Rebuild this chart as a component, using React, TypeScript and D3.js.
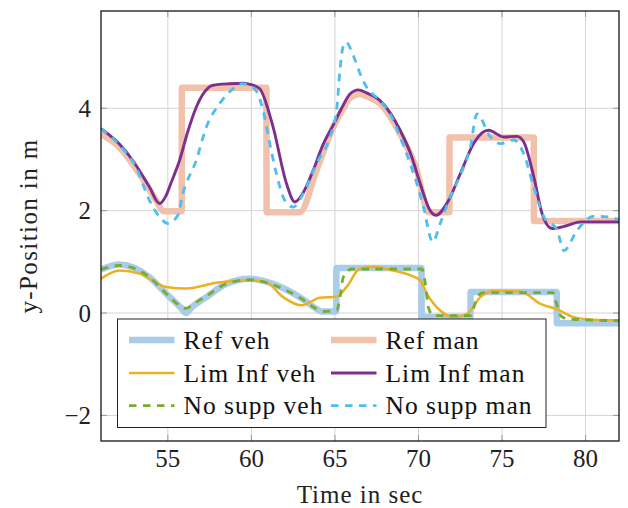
import React from "react";
import * as d3 from "d3";

// reference trajectories
const tRefVeh = [51, 52.1, 53.9, 54.9, 55.8, 56.1, 56.4, 57.3, 58.5, 59.9, 61.3, 62.9, 63.9, 64.2, 65.08, 65.09, 70.18, 70.19, 73.11, 73.12, 78.27, 78.28, 82];
const yRefVeh = [0.85, 0.95, 0.7, 0.38, 0.1, 0.0, 0.1, 0.31, 0.57, 0.67, 0.57, 0.31, 0.08, 0.03, 0.03, 0.88, 0.88, -0.08, -0.08, 0.41, 0.41, -0.2, -0.2];

const tRefMan = [51, 52.1, 53.3, 54.3, 54.75, 55.83, 55.84, 60.9, 60.91, 62.9, 63.9, 64.9, 65.5, 65.9, 66.5, 67.0, 67.7, 68.9, 69.9, 70.6, 71.85, 71.86, 76.9, 76.91, 82];
const yRefMan = [3.5, 3.24, 2.72, 2.2, 1.99, 1.99, 4.4, 4.4, 1.97, 1.97, 2.79, 3.63, 4.0, 4.2, 4.28, 4.22, 4.09, 3.5, 2.79, 1.97, 1.97, 3.43, 3.43, 1.8, 1.8];

// limited influence controller
const tLimVeh = [51, 52.1, 53.3, 54.9, 56.1, 57.9, 59.9, 60.9, 61.9, 63.0, 64.1, 65.1, 65.7, 66.5, 67.3, 68.5, 70.1, 70.5, 71.3, 72.1, 72.9, 73.7, 74.5, 76.1, 77.3, 78.3, 79.3, 80.5, 82];
const yLimVeh = [0.67, 0.83, 0.77, 0.51, 0.48, 0.59, 0.64, 0.6, 0.31, 0.15, 0.3, 0.32, 0.51, 0.87, 0.9, 0.83, 0.64, 0.38, 0.05, -0.08, -0.02, 0.31, 0.43, 0.42, 0.18, 0.07, -0.08, -0.13, -0.14];

const tLimMan = [51, 52.1, 52.9, 53.9, 54.5, 54.9, 55.2, 55.7, 56.2, 56.7, 57.2, 57.7, 58.7, 59.5, 60.0, 60.5, 61.3, 62.1, 62.6, 63.1, 63.7, 64.3, 64.9, 65.4, 65.9, 66.4, 66.9, 67.7, 68.9, 69.6, 70.1, 70.7, 71.05, 71.8, 72.5, 73.3, 73.9, 74.2, 75.1, 75.9, 76.3, 76.9, 77.4, 78.0, 78.9, 79.7, 82];
const yLimMan = [3.6, 3.3, 2.98, 2.46, 2.14, 2.3, 2.55, 2.98, 3.55, 4.02, 4.32, 4.45, 4.48, 4.49, 4.46, 4.38, 3.63, 2.53, 2.17, 2.35, 2.79, 3.3, 3.67, 4.0, 4.28, 4.36, 4.3, 4.15, 3.57, 3.05, 2.53, 2.0, 1.91, 2.2, 2.72, 3.31, 3.54, 3.57, 3.44, 3.45, 3.34, 2.66, 1.94, 1.65, 1.71, 1.78, 1.78];

// no support
const tNoVeh = [51, 52.1, 53.9, 54.9, 55.7, 56.1, 56.5, 57.3, 58.5, 59.9, 61.3, 62.9, 63.9, 64.3, 65.1, 65.3, 65.5, 66.0, 70.2, 70.4, 70.6, 70.9, 73.1, 73.3, 73.55, 73.9, 78.05, 78.25, 78.5, 79.0, 82];
const yNoVeh = [0.85, 0.93, 0.7, 0.38, 0.15, 0.09, 0.17, 0.33, 0.57, 0.65, 0.55, 0.3, 0.08, 0.03, 0.05, 0.3, 0.7, 0.86, 0.86, 0.6, 0.1, -0.05, -0.05, 0.1, 0.33, 0.4, 0.4, 0.2, -0.05, -0.12, -0.15];

const tNoMan = [51, 52.1, 53.1, 53.9, 54.5, 55.0, 55.6, 55.9, 56.7, 57.3, 58.1, 58.9, 59.4, 60.1, 60.7, 61.1, 61.5, 62.0, 62.5, 63.1, 63.9, 64.7, 65.1, 65.3, 65.45, 65.65, 66.1, 66.5, 66.9, 67.7, 68.5, 68.9, 69.5, 69.9, 70.3, 70.85, 71.3, 71.9, 72.5, 73.1, 73.5, 74.3, 74.9, 75.7, 76.3, 76.9, 77.5, 78.3, 78.7, 79.5, 80.5, 81.3, 82];
const yNoMan = [3.6, 3.28, 2.85, 2.2, 1.88, 1.75, 1.91, 2.33, 2.98, 3.63, 4.09, 4.38, 4.48, 4.41, 3.96, 3.31, 2.72, 2.2, 2.07, 2.33, 2.92, 3.44, 3.96, 4.74, 5.15, 5.29, 5.03, 4.68, 4.41, 4.15, 3.76, 3.44, 2.92, 2.53, 2.07, 1.39, 1.75, 2.27, 2.69, 3.24, 3.89, 3.44, 3.31, 3.38, 3.11, 2.46, 1.88, 1.62, 1.22, 1.62, 1.89, 1.88, 1.82];

const xTicks = [55, 60, 65, 70, 75, 80];
const yTicks = [-2, 0, 2, 4];

const series = [
  { name: "Ref veh", t: tRefVeh, y: yRefVeh, color: "#a9cce8", width: 6.5, dash: "" },
  { name: "Ref man", t: tRefMan, y: yRefMan, color: "#f2c1ab", width: 6.5, dash: "" },
  { name: "Lim Inf veh", t: tLimVeh, y: yLimVeh, color: "#EDB120", width: 2.5, dash: "" },
  { name: "Lim Inf man", t: tLimMan, y: yLimMan, color: "#7E2F8E", width: 2.9, dash: "" },
  { name: "No supp veh", t: tNoVeh, y: yNoVeh, color: "#77AC30", width: 2.8, dash: "7.5 6.5" },
  { name: "No supp man", t: tNoMan, y: yNoMan, color: "#4DBEEE", width: 2.8, dash: "7.5 6.5" },
];

const W = 628, H = 508;
const margin = { left: 101, right: 9, top: 11, bottom: 67 };
const font = "'Liberation Serif', 'Times New Roman', serif";

export default function App() {
  const x = d3.scaleLinear().domain([51, 82]).range([margin.left, W - margin.right]);
  const y = d3.scaleLinear().domain([-2.5, 5.9]).range([H - margin.bottom, margin.top]);
  const [x0, x1] = x.range();
  const [y0, y1] = y.range();

  const line = d3
    .line<[number, number]>()
    .x((d) => x(d[0]))
    .y((d) => y(d[1]))
    .curve(d3.curveMonotoneX);

  const legendRows = [340, 373, 405.7];
  const legendCols = [129, 331];

  return (
    <svg width={W} height={H} style={{ position: "absolute", left: 0, top: 0, background: "#fff" }} fontFamily={font}>
      <defs>
        <clipPath id="plot">
          <rect x={x0} y={y1} width={x1 - x0} height={y0 - y1} />
        </clipPath>
      </defs>

      {/* grid */}
      {xTicks.map((t) => (
        <g key={"gx" + t}>
          <line x1={x(t)} x2={x(t)} y1={y1} y2={y0} stroke="#d4d4d4" strokeWidth={1} />
          <line x1={x(t)} x2={x(t)} y1={y0} y2={y0 - 6} stroke="#999" strokeWidth={1} />
          <line x1={x(t)} x2={x(t)} y1={y1} y2={y1 + 6} stroke="#999" strokeWidth={1} />
          <text x={x(t)} y={467} textAnchor="middle" fontSize={25} fill="#222">{t}</text>
        </g>
      ))}
      {yTicks.map((v) => (
        <g key={"gy" + v}>
          <line x1={x0} x2={x1} y1={y(v)} y2={y(v)} stroke="#d4d4d4" strokeWidth={1} />
          <line x1={x0} x2={x0 + 6} y1={y(v)} y2={y(v)} stroke="#999" strokeWidth={1} />
          <line x1={x1} x2={x1 - 6} y1={y(v)} y2={y(v)} stroke="#999" strokeWidth={1} />
          <text x={91} y={y(v)} dy="0.34em" textAnchor="end" fontSize={25} fill="#222">
            {v < 0 ? "\u2212" + Math.abs(v) : v}
          </text>
        </g>
      ))}

      {/* data */}
      <g clipPath="url(#plot)">
        {series.map((s) => (
          <path
            key={s.name}
            d={line(s.t.map((t, i) => [t, s.y[i]] as [number, number])) || ""}
            fill="none"
            stroke={s.color}
            strokeWidth={s.width}
            strokeDasharray={s.dash}
          />
        ))}
      </g>

      {/* frame */}
      <rect x={x0} y={y1} width={x1 - x0} height={y0 - y1} fill="none" stroke="#000" strokeWidth={1.2} />

      {/* legend */}
      <rect x={117.5} y={319} width={428.5} height={108.5} fill="#fff" stroke="#222" strokeWidth={1} />
      {series.map((s, i) => {
        const col = i % 2;
        const row = Math.floor(i / 2);
        const lx = legendCols[col];
        const ly = legendRows[row];
        return (
          <g key={"lg" + s.name}>
            <line x1={lx} x2={lx + 45.5} y1={ly} y2={ly} stroke={s.color} strokeWidth={s.width} strokeDasharray={s.dash} />
            <text x={lx + 54.5} y={ly} dy="0.34em" fontSize={25.5} letterSpacing={1} fill="#111">{s.name}</text>
          </g>
        );
      })}

      {/* axis titles */}
      <text x={(x0 + x1) / 2} y={503} textAnchor="middle" fontSize={25} letterSpacing={1} fill="#222">Time in sec</text>
      <text transform={`translate(37, ${(y0 + y1) / 2}) rotate(-90)`} textAnchor="middle" fontSize={25} letterSpacing={1.4} fill="#222">
        y-Position in m
      </text>
    </svg>
  );
}
